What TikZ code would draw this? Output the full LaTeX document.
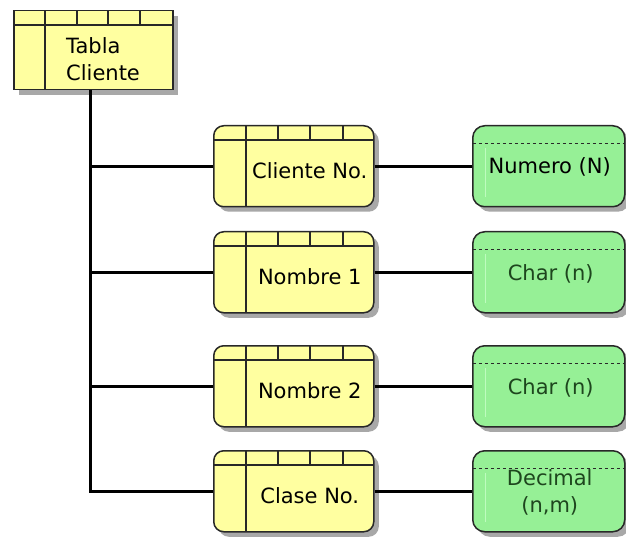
\documentclass[tikz,border=0pt]{standalone}
\usepackage{fontspec}
\setmainfont{DejaVu Sans}
\usetikzlibrary{calc,shadows}
\definecolor{entyellow}{RGB}{255,255,160}
\definecolor{typegreen}{RGB}{150,240,150}
\definecolor{typeline}{RGB}{190,252,190}
\definecolor{edge}{RGB}{40,40,40}
\definecolor{shade}{RGB}{168,168,168}
\definecolor{typetext}{RGB}{30,70,30}
\begin{document}
\begin{tikzpicture}[x=1pt,y=-1pt,
  box/.style={draw=edge, line width=1.5pt, inner sep=0pt, anchor=north west,
    general shadow={fill=shade, shadow xshift=5pt, shadow yshift=-5pt}},
  inner/.style={draw=edge, line width=1.7pt},
  % table header: square box with column band
  tablebox/.style={box, fill=entyellow, minimum width=159pt, minimum height=79pt,
    path picture={
      \path (path picture bounding box.north west) coordinate (pp-nw)
            (path picture bounding box.south east) coordinate (pp-se);
      \draw[inner] ($(pp-nw)+(0,14)$) -- ($(pp-se|-pp-nw)+(0,14)$);
      \draw[inner] ($(pp-nw)+(31,0)$) -- ($(pp-nw|-pp-se)+(31,0)$);
      \foreach \dx in {63,94,126}
        \draw[inner] ($(pp-nw)+(\dx,0)$) -- ($(pp-nw)+(\dx,14)$);
    }},
  % attribute entity: rounded box with column band
  entbox/.style={box, fill=entyellow, rounded corners=10pt, minimum width=160pt, minimum height=81pt,
    path picture={
      \path (path picture bounding box.north west) coordinate (pp-nw)
            (path picture bounding box.south east) coordinate (pp-se);
      \draw[inner] ($(pp-nw)+(0,14)$) -- ($(pp-se|-pp-nw)+(0,14)$);
      \draw[inner] ($(pp-nw)+(32,0)$) -- ($(pp-nw|-pp-se)+(32,0)$);
      \foreach \dx in {64,96,129}
        \draw[inner] ($(pp-nw)+(\dx,0)$) -- ($(pp-nw)+(\dx,14)$);
    }},
  % data type: rounded green box with dashed header line
  typebox/.style={box, fill=typegreen, rounded corners=12pt, minimum width=152pt, minimum height=81pt,
    path picture={
      \path (path picture bounding box.north west) coordinate (pp-nw)
            (path picture bounding box.south east) coordinate (pp-se);
      \draw[typeline, line width=1.4pt] ($(pp-nw)+(13,22)$) -- ($(pp-nw|-pp-se)+(13,-10)$);
      \draw[edge, line width=1.4pt, dash pattern=on 3.5pt off 2.5pt] ($(pp-nw)+(0,18)$) -- ($(pp-se|-pp-nw)+(0,18)$);
    }},
  label/.style={font=\fontsize{21}{27}\selectfont, inner sep=0pt, align=center},
  typelabel/.style={label, text=typetext},
  link/.style={draw=black, line width=2.8pt}
]
\useasboundingbox (0,0) rectangle (626,537);

% table
\node[tablebox] (tabla) at (13,10) {};
\node[label, align=left, anchor=west] (tablatxt) at (66,59) {Tabla\\Cliente};

% attributes
\node[entbox] (e1) at (213,125) {};
\node[entbox] (e2) at (213,231) {};
\node[entbox] (e3) at (213,345) {};
\node[entbox] (e4) at (213,450) {};
\node[label] (e1t) at ($(e1.center)+(16,4)$) {Cliente No.};
\node[label] (e2t) at ($(e2.center)+(16,4)$) {Nombre 1};
\node[label] (e3t) at ($(e3.center)+(16,4)$) {Nombre 2};
\node[label] (e4t) at ($(e4.center)+(16,4)$) {Clase No.};

% data types
\node[typebox] (d1) at (472,125) {};
\node[typebox] (d2) at (472,231) {};
\node[typebox] (d3) at (472,345) {};
\node[typebox] (d4) at (472,450) {};
\node[label] (d1t) at ($(d1.center)+(1,1)$) {Numero (N)};
\node[typelabel] (d2t) at ($(d2.center)+(2,2)$) {Char (n)};
\node[typelabel] (d3t) at ($(d3.center)+(2,2)$) {Char (n)};
\node[typelabel] (d4t) at ($(d4.center)+(1,1)$) {Decimal\\(n,m)};

% connectors
\coordinate (trunk) at ($(tabla.south)+(-2.5,0)$);
\draw[link] (trunk) |- (e4.west);
\foreach \i in {1,2,3}
  \draw[link] (trunk |- e\i.west) -- (e\i.west);
\foreach \i in {1,2,3,4}
  \draw[link] (e\i.east) -- (d\i.west);
\end{tikzpicture}
\end{document}
